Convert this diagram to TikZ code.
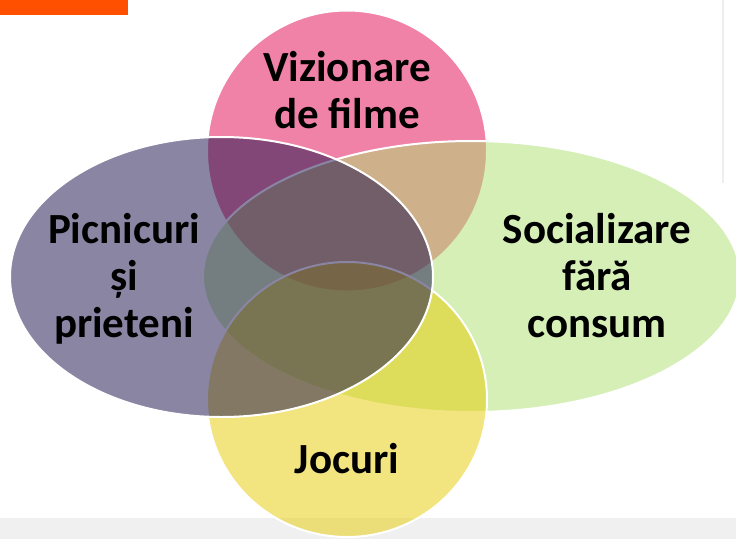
\documentclass[tikz,border=0pt]{standalone}
\usepackage{fontspec}
\setmainfont{Carlito}
\usetikzlibrary{shapes.geometric}
\definecolor{orangebar}{RGB}{255,80,0}
\definecolor{bandgray}{RGB}{240,240,240}
\definecolor{rulegray}{RGB}{238,238,238}
\definecolor{pinkc}{RGB}{229,7,81}
\definecolor{greenc}{RGB}{173,225,113}
\definecolor{yellowc}{RGB}{231,203,0}
\definecolor{purplec}{RGB}{21,13,73}
\tikzset{
  blob/.style={ellipse, inner sep=0pt, outer sep=0pt, draw=white, line width=2pt, fill opacity=0.5, draw opacity=1},
  lbl/.style={font=\fontsize{43}{47}\selectfont\bfseries, align=center, anchor=base, text=black, inner sep=0pt}
}
\begin{document}
\begin{tikzpicture}[x=1pt,y=-1pt]
\useasboundingbox (0,0) rectangle (736,539);
\fill[white] (0,0) rectangle (736,539);
\fill[bandgray] (0,518) rectangle (736,539);
\fill[orangebar] (0,0) rectangle (128,14.5);
\draw[rulegray, line width=1.5pt] (723,0) -- (723,183);
\node[blob, fill=pinkc, minimum width=280pt, minimum height=281pt] (pink) at (347,151) {};
\node[blob, fill=greenc, minimum width=537pt, minimum height=271pt] (green) at (471.5,276.5) {};
\node[blob, fill=yellowc, minimum width=280pt, minimum height=275pt] (yellow) at (347,399.5) {};
\node[blob, fill=purplec, minimum width=423pt, minimum height=280pt] (purple) at (221.5,277) {};
\node[lbl] (tpink) at (347,128) {Vizionare\\de filme};
\node[lbl] (tgreen) at (597,337) {Socializare\\fără\\consum};
\node[lbl] (tyellow) at (347,473) {Jocuri};
\node[lbl] (tpurple) at (124,337) {Picnicuri\\și\\prieteni};
\end{tikzpicture}
\end{document}
